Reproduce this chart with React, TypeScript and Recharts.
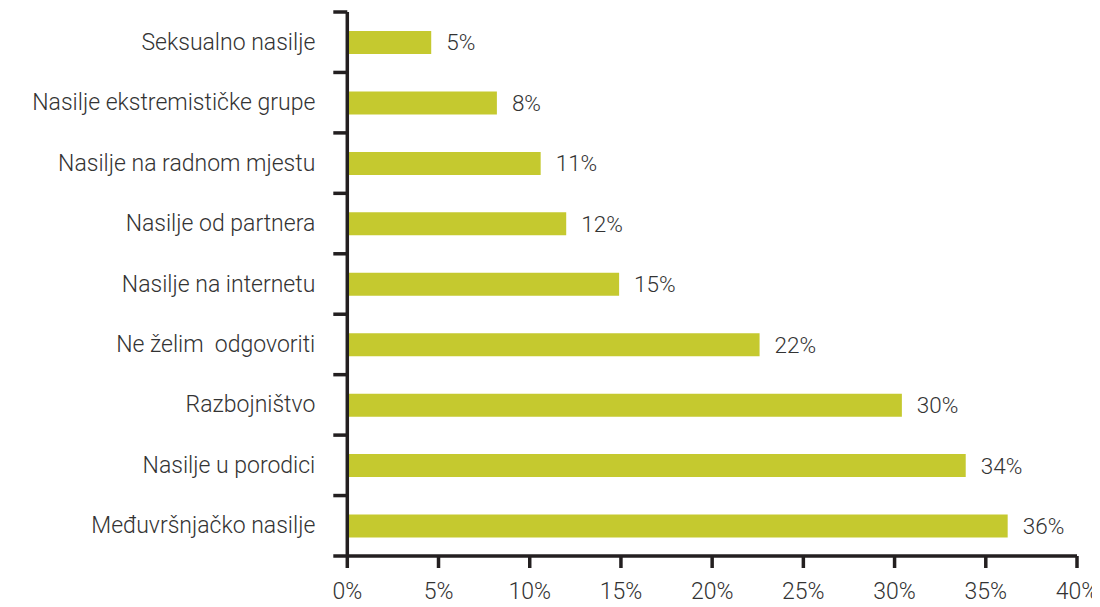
import { BarChart, Bar, XAxis, YAxis, LabelList } from "recharts";

const categories = [
  "Seksualno nasilje",
  "Nasilje ekstremističke grupe",
  "Nasilje na radnom mjestu",
  "Nasilje od partnera",
  "Nasilje na internetu",
  "Ne želim  odgovoriti",
  "Razbojništvo",
  "Nasilje u porodici",
  "Međuvršnjačko nasilje",
];
const values = [4.6, 8.2, 10.6, 12.0, 14.9, 22.6, 30.4, 33.9, 36.2];
const valueLabels = ["5%", "8%", "11%", "12%", "15%", "22%", "30%", "34%", "36%"];
const xTicks = [0, 5, 10, 15, 20, 25, 30, 35, 40];

const data = categories.map((name, i) => ({ name, value: values[i], label: valueLabels[i] }));

const W = 1092;
const H = 599;
const MARGIN = { top: 4, right: 23, left: 0, bottom: 0 };
const Y_WIDTH = 339.3;
const X_HEIGHT = 51;
const AXIS = "#231f20";
const TEXT = "#333333";
const FONT = "Roboto, 'Noto Sans', sans-serif";
const band = (H - MARGIN.top - MARGIN.bottom - X_HEIGHT) / categories.length;

// category label in the band centre, tick marks on the band edges
const CategoryTick = ({ y, payload, index }: any) => {
  const ax = Y_WIDTH;
  return (
    <g>
      <text
        x={ax - 32}
        y={y}
        textAnchor="end"
        dominantBaseline="central"
        fill={TEXT}
        fontSize={23}
        fontWeight={300}
        fontFamily={FONT}
        style={{ whiteSpace: "pre" }}
      >
        {payload.value}
      </text>
      <line x1={ax - 14} x2={ax} y1={y - band / 2} y2={y - band / 2} stroke={AXIS} strokeWidth={3.5} />
      {index === categories.length - 1 && (
        <line x1={ax - 14} x2={ax} y1={y + band / 2} y2={y + band / 2} stroke={AXIS} strokeWidth={3.5} />
      )}
    </g>
  );
};

export default function App() {
  return (
    <BarChart width={W} height={H} data={data} layout="vertical" margin={MARGIN}>
      <XAxis
        type="number"
        domain={[0, 40]}
        ticks={xTicks}
        tickFormatter={(v) => `${v}%`}
        height={X_HEIGHT}
        tickSize={12}
        tickMargin={15}
        axisLine={{ stroke: AXIS, strokeWidth: 3.5 }}
        tickLine={{ stroke: AXIS, strokeWidth: 3.5 }}
        tick={{ fill: TEXT, fontSize: 23, fontWeight: 300, fontFamily: FONT }}
      />
      <YAxis
        type="category"
        dataKey="name"
        width={Y_WIDTH}
        tickLine={false}
        axisLine={{ stroke: AXIS, strokeWidth: 3.5 }}
        tick={<CategoryTick />}
        interval={0}
      />
      <Bar dataKey="value" fill="#c5c92f" barSize={23} isAnimationActive={false}>
        <LabelList
          dataKey="label"
          position="right"
          offset={15}
          fill={TEXT}
          fontSize={22.5}
          fontWeight={300}
          fontFamily={FONT}
        />
      </Bar>
    </BarChart>
  );
}
